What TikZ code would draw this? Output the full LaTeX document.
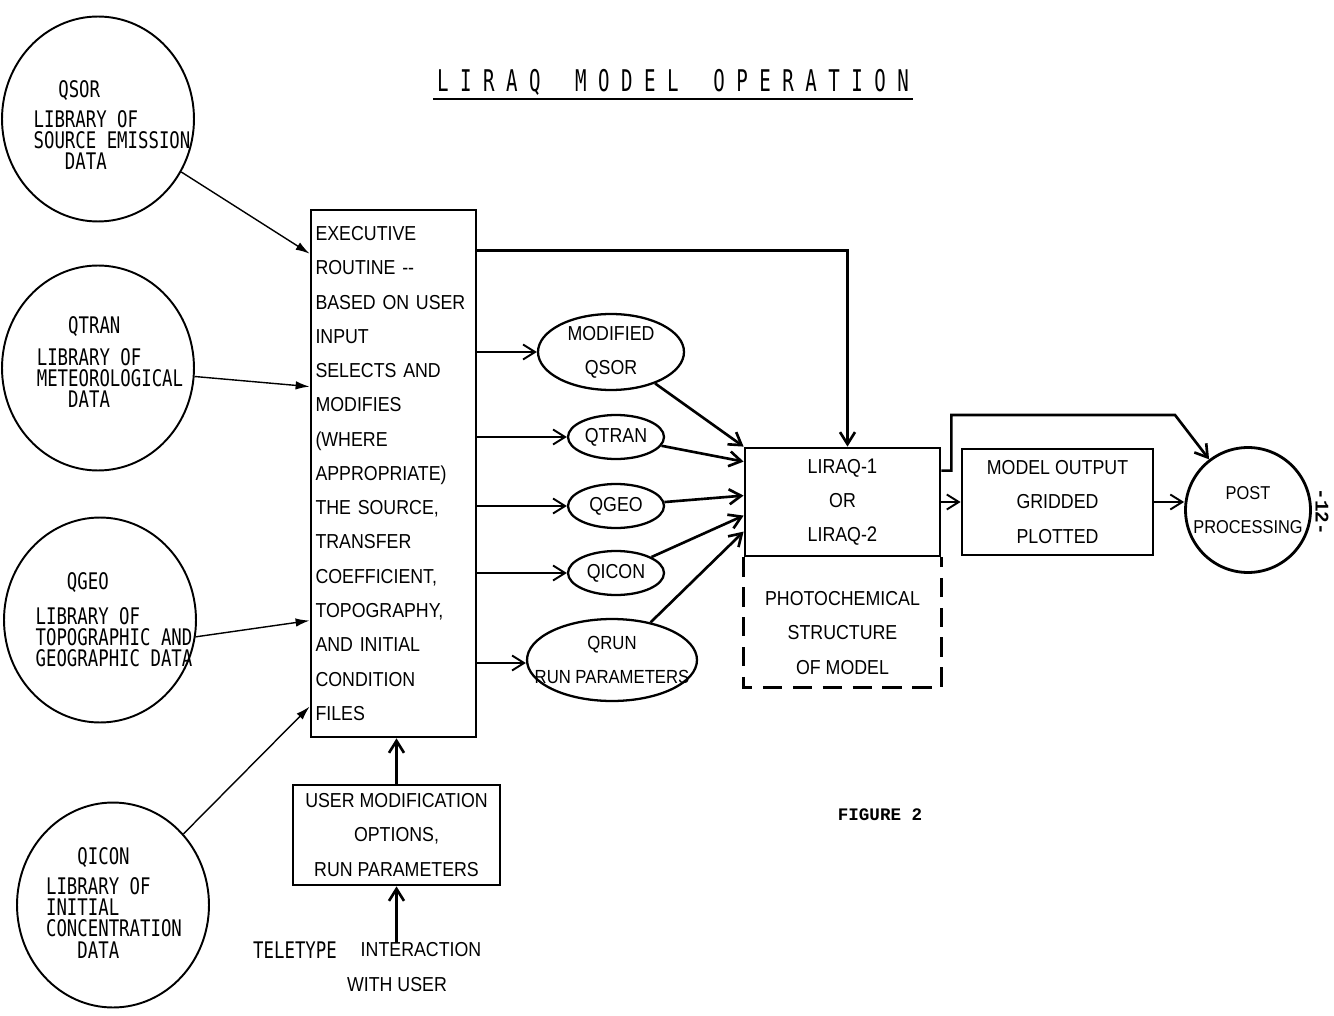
\documentclass[tikz,border=0pt]{standalone}
\usepackage{fontspec}
\setmainfont{Liberation Sans}
\newfontfamily\boxfont[FakeStretch=0.88]{Liberation Sans}
\newfontfamily\typefont[FakeStretch=0.76]{DejaVu Sans Mono}
\newfontfamily\titlefont[FakeStretch=0.64]{DejaVu Sans Mono}
\newfontfamily\figfont{Liberation Mono}
\usetikzlibrary{arrows.meta, shapes.geometric, positioning, calc}

\tikzset{
  >=latex,  % frecce di default
  % librerie (cerchi a sinistra)
  node lib/.style={ellipse,draw,line width=1.1pt,minimum width=3.84cm,minimum height=4.1cm,inner sep=0pt},
  node libtext/.style={align=left,inner sep=0pt,font=\typefont\fontsize{13}{12}\selectfont},
  % blocchi e ovali
  node box/.style={rectangle,draw,line width=1.6pt,align=center,font=\boxfont\fontsize{11.5}{19.5}\selectfont},
  node oval/.style={ellipse,draw,line width=1.3pt,align=center,inner sep=-1cm,font=\boxfont\fontsize{11.5}{19.5}\selectfont},
  node plain/.style={align=center,inner sep=0pt,font=\boxfont\fontsize{11.5}{19.5}\selectfont},
  % connessioni
  connect feed/.style={-{Latex[length=2.8mm,width=1.7mm]},line width=0.8pt},
  connect arrow/.style={-{Straight Barb[length=2.4mm,width=3mm]},line width=1.1pt},
  connect thick/.style={connect arrow,line width=1.5pt}
}

\begin{document}
\begin{tikzpicture}[x=0.02cm,y=-0.02cm]
  \useasboundingbox (0,0) rectangle (1334,1016);
  \node[font=\titlefont\fontsize{17}{17}\selectfont,inner sep=2pt] (title) at (673,82)
    {L I R A Q \ \ M O D E L \ \ O P E R A T I O N};
  \draw[line width=1.2pt] (title.south west) -- (title.south east);

  \node[node lib] (qsor) at (98,119) {};
  \node[node libtext] (qsor-t) at (112,125)
    {\phantom{XX}\,QSOR\\[5pt] LIBRARY OF\\ SOURCE EMISSION\\ \phantom{XXX}DATA};
  \node[node lib] (qtran) at (98,368) {};
  \node[node libtext] (qtran-t) at (110,362)
    {\phantom{XXX}QTRAN\\[6pt] LIBRARY OF\\ METEOROLOGICAL\\ \phantom{XXX}DATA};
  \node[node lib] (qgeo) at (100,620) {};
  \node[node libtext] (qgeo-t) at (114,620)
    {\phantom{XXX}QGEO\\[8pt] LIBRARY OF\\ TOPOGRAPHIC AND\\ GEOGRAPHIC DATA};
  \node[node lib] (qicon) at (113,905) {};
  \node[node libtext] (qicon-t) at (114,903)
    {\phantom{XXX}QICON\\[5pt] LIBRARY OF\\ INITIAL\\ CONCENTRATION\\ \phantom{XXX}DATA};

  \node[node box,align=left,text width=3.12cm,inner xsep=0.09cm,minimum height=10.54cm] (exec) at (393.5,473.5)
    {EXECUTIVE\\ ROUTINE --\\ BASED ON USER\\ INPUT\\ SELECTS AND\\ MODIFIES\\ (WHERE\\ APPROPRIATE)\\
     THE SOURCE,\\ TRANSFER\\ COEFFICIENT,\\ TOPOGRAPHY,\\ AND INITIAL\\ CONDITION\\ FILES};

  \node[node oval,minimum width=2.92cm,minimum height=1.52cm] (modq) at (611,352) {MODIFIED\\QSOR};
  \node[node oval,minimum width=1.92cm,minimum height=0.88cm] (qtranx) at (616,437) {QTRAN};
  \node[node oval,minimum width=1.92cm,minimum height=0.88cm] (qgeox) at (616,506) {QGEO};
  \node[node oval,minimum width=1.92cm,minimum height=0.88cm] (qiconx) at (616,573) {QICON};
  \node[node oval,minimum width=3.4cm,minimum height=1.64cm,font=\boxfont\fontsize{10.8}{19.5}\selectfont] (qrun) at (612,660)
    {QRUN\\RUN PARAMETERS};

  \node[node box,minimum width=3.9cm,minimum height=2.16cm] (liraq) at (842.5,502)
    {LIRAQ-{\large 1}\\OR\\LIRAQ-{\large 2}};
  \node[node plain] (photo) at (842.5,633) {PHOTOCHEMICAL\\STRUCTURE\\OF MODEL};
  \draw[line width=1.6pt,dash pattern=on 11pt off 6pt] (liraq.south west) -- ++(0,130) -| (liraq.south east);

  \node[node box,minimum width=3.82cm,minimum height=2.12cm] (mout) at (1057.5,502)
    {MODEL OUTPUT\\GRIDDED\\PLOTTED};
  \node[circle,draw,line width=1.6pt,minimum size=2.5cm,inner sep=-0.5cm,align=center,
        font=\boxfont\fontsize{10.6}{19}\selectfont] (post) at (1248,510) {POST\\PROCESSING};
  \node[rotate=-90,font=\figfont\bfseries\fontsize{11}{11}\selectfont] (pageno) at (1322,512) {-12-};

  \node[node box,minimum width=4.14cm,minimum height=2cm] (usr) at (396.5,835)
    {USER MODIFICATION\\OPTIONS,\\RUN PARAMETERS};
  \node[node libtext] (tty) at (295,950) {TELETYPE};
  \node[node plain] (inter) at (421,950) {INTERACTION};
  \node[node plain] (withu) at (397,985) {WITH USER};
  \node[font=\figfont\bfseries\fontsize{10}{10}\selectfont] (fig) at (880,815) {FIGURE 2};

  \draw[connect feed] (qsor) -- ([yshift=-0.9cm]exec.north west);
  \draw[connect feed] (qtran) -- ([yshift=-3.56cm]exec.north west);
  \draw[connect feed] (qgeo.-10) -- ([yshift=-8.24cm]exec.north west);
  \draw[connect feed] (qicon) -- ([yshift=-9.96cm]exec.north west);

  \draw[connect arrow] (exec.east |- modq) -- (modq);
  \draw[connect arrow] (exec.east |- qtranx) -- (qtranx);
  \draw[connect arrow] (exec.east |- qgeox) -- (qgeox);
  \draw[connect arrow] (exec.east |- qiconx) -- (qiconx);
  \draw[connect arrow] ([yshift=-0.06cm]exec.east |- qrun) -- ([yshift=-0.06cm]qrun.west);

  \draw[connect thick] (modq) -- (liraq.north west);
  \draw[connect thick] (qtranx) -- ([yshift=-0.3cm]liraq.north west);
  \draw[connect thick] (qgeox) -- ([yshift=-0.98cm]liraq.north west);
  \draw[connect thick] (qiconx) -- ([yshift=-1.38cm]liraq.north west);
  \draw[connect thick] (qrun) -- ([yshift=-1.7cm]liraq.north west);

  \draw[connect thick] ([yshift=-0.84cm]exec.north east) -| ([xshift=0.1cm]liraq.north);
  \coordinate (bend) at (1175,415);
  \draw[connect thick] ([yshift=-0.48cm]liraq.north east) -- ++(10,0) |- (bend) -- (post);
  \draw[connect arrow] (liraq.east) -- (mout.west);
  \draw[connect arrow] (mout.east) -- (mout.east -| post.west);

  \draw[connect thick] (usr.north) -- (usr.north |- exec.south);
  \draw[connect thick] (inter.north -| usr.south) -- (usr.south);
\end{tikzpicture}
\end{document}
